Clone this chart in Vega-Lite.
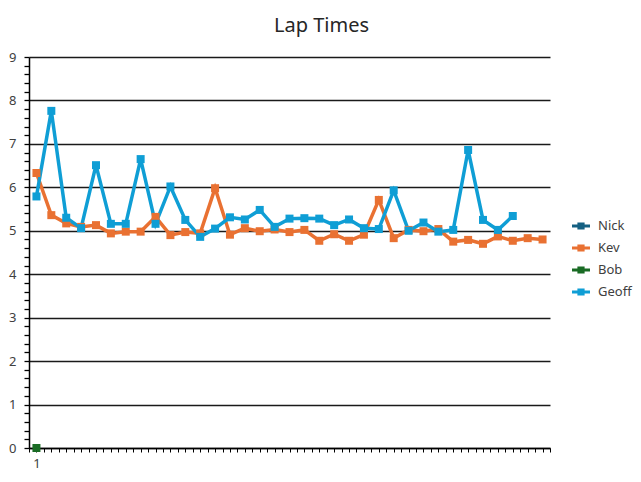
{
  "$schema": "https://vega.github.io/schema/vega-lite/v6.json",
  "autosize": "none",
  "width": 521,
  "height": 391,
  "padding": {"left": 29, "top": 57, "right": 91, "bottom": 34},
  "background": "white",
  "config": {
    "font": "Noto Sans",
    "view": {"stroke": null}
  },
  "title": {
    "text": "Lap Times",
    "fontSize": 20,
    "fontWeight": "normal",
    "color": "#262626",
    "anchor": "middle",
    "dx": 32,
    "offset": 15
  },
  "data": {
    "values": [
      {"lap": 1, "driver": "Kev", "time": 6.33},
      {"lap": 2, "driver": "Kev", "time": 5.36},
      {"lap": 3, "driver": "Kev", "time": 5.17},
      {"lap": 4, "driver": "Kev", "time": 5.09},
      {"lap": 5, "driver": "Kev", "time": 5.13},
      {"lap": 6, "driver": "Kev", "time": 4.94},
      {"lap": 7, "driver": "Kev", "time": 4.98},
      {"lap": 8, "driver": "Kev", "time": 4.98},
      {"lap": 9, "driver": "Kev", "time": 5.32},
      {"lap": 10, "driver": "Kev", "time": 4.90},
      {"lap": 11, "driver": "Kev", "time": 4.97},
      {"lap": 12, "driver": "Kev", "time": 4.94},
      {"lap": 13, "driver": "Kev", "time": 5.98},
      {"lap": 14, "driver": "Kev", "time": 4.91},
      {"lap": 15, "driver": "Kev", "time": 5.06},
      {"lap": 16, "driver": "Kev", "time": 4.99},
      {"lap": 17, "driver": "Kev", "time": 5.03},
      {"lap": 18, "driver": "Kev", "time": 4.97},
      {"lap": 19, "driver": "Kev", "time": 5.02},
      {"lap": 20, "driver": "Kev", "time": 4.77},
      {"lap": 21, "driver": "Kev", "time": 4.92},
      {"lap": 22, "driver": "Kev", "time": 4.77},
      {"lap": 23, "driver": "Kev", "time": 4.91},
      {"lap": 24, "driver": "Kev", "time": 5.71},
      {"lap": 25, "driver": "Kev", "time": 4.83},
      {"lap": 26, "driver": "Kev", "time": 5.02},
      {"lap": 27, "driver": "Kev", "time": 4.99},
      {"lap": 28, "driver": "Kev", "time": 5.04},
      {"lap": 29, "driver": "Kev", "time": 4.75},
      {"lap": 30, "driver": "Kev", "time": 4.79},
      {"lap": 31, "driver": "Kev", "time": 4.70},
      {"lap": 32, "driver": "Kev", "time": 4.87},
      {"lap": 33, "driver": "Kev", "time": 4.77},
      {"lap": 34, "driver": "Kev", "time": 4.83},
      {"lap": 35, "driver": "Kev", "time": 4.80},
      {"lap": 1, "driver": "Bob", "time": 0},
      {"lap": 1, "driver": "Geoff", "time": 5.79},
      {"lap": 2, "driver": "Geoff", "time": 7.76},
      {"lap": 3, "driver": "Geoff", "time": 5.30},
      {"lap": 4, "driver": "Geoff", "time": 5.06},
      {"lap": 5, "driver": "Geoff", "time": 6.51},
      {"lap": 6, "driver": "Geoff", "time": 5.16},
      {"lap": 7, "driver": "Geoff", "time": 5.16},
      {"lap": 8, "driver": "Geoff", "time": 6.65},
      {"lap": 9, "driver": "Geoff", "time": 5.16},
      {"lap": 10, "driver": "Geoff", "time": 6.02},
      {"lap": 11, "driver": "Geoff", "time": 5.25},
      {"lap": 12, "driver": "Geoff", "time": 4.86},
      {"lap": 13, "driver": "Geoff", "time": 5.05},
      {"lap": 14, "driver": "Geoff", "time": 5.31},
      {"lap": 15, "driver": "Geoff", "time": 5.26},
      {"lap": 16, "driver": "Geoff", "time": 5.48},
      {"lap": 17, "driver": "Geoff", "time": 5.09},
      {"lap": 18, "driver": "Geoff", "time": 5.28},
      {"lap": 19, "driver": "Geoff", "time": 5.29},
      {"lap": 20, "driver": "Geoff", "time": 5.28},
      {"lap": 21, "driver": "Geoff", "time": 5.13},
      {"lap": 22, "driver": "Geoff", "time": 5.26},
      {"lap": 23, "driver": "Geoff", "time": 5.06},
      {"lap": 24, "driver": "Geoff", "time": 5.04},
      {"lap": 25, "driver": "Geoff", "time": 5.93},
      {"lap": 26, "driver": "Geoff", "time": 5.00},
      {"lap": 27, "driver": "Geoff", "time": 5.19},
      {"lap": 28, "driver": "Geoff", "time": 4.98},
      {"lap": 29, "driver": "Geoff", "time": 5.02},
      {"lap": 30, "driver": "Geoff", "time": 6.86},
      {"lap": 31, "driver": "Geoff", "time": 5.25},
      {"lap": 32, "driver": "Geoff", "time": 5.02},
      {"lap": 33, "driver": "Geoff", "time": 5.34}
    ]
  },
  "encoding": {
    "x": {
      "field": "lap",
      "type": "quantitative",
      "scale": {"domain": [0.5, 35.5], "nice": false, "zero": false},
      "axis": {
        "title": null,
        "grid": false,
        "values": [0.5,1,1.5,2,2.5,3,3.5,4,4.5,5,5.5,6,6.5,7,7.5,8,8.5,9,9.5,10,10.5,11,11.5,12,12.5,13,13.5,14,14.5,15,15.5,16,16.5,17,17.5,18,18.5,19,19.5,20,20.5,21,21.5,22,22.5,23,23.5,24,24.5,25,25.5,26,26.5,27,27.5,28,28.5,29,29.5,30,30.5,31,31.5,32,32.5,33,33.5,34,34.5,35,35.5],
        "labelExpr": "datum.value == 1 ? '1' : ''",
        "domainColor": "#000000",
        "domainWidth": 1.5,
        "tickColor": "#000000",
        "tickSize": 4,
        "tickWidth": 1,
        "labelPadding": 5,
        "labelFontSize": 13,
        "labelColor": "#404040"
      }
    },
    "y": {
      "field": "time",
      "type": "quantitative",
      "scale": {"domain": [0, 9], "nice": false},
      "axis": {
        "title": null,
        "values": [0,0.2,0.4,0.6,0.8,1,1.2,1.4,1.6,1.8,2,2.2,2.4,2.6,2.8,3,3.2,3.4,3.6,3.8,4,4.2,4.4,4.6,4.8,5,5.2,5.4,5.6,5.8,6,6.2,6.4,6.6,6.8,7,7.2,7.4,7.6,7.8,8,8.2,8.4,8.6,8.8,9],
        "labelExpr": "datum.value % 1 === 0 ? format(datum.value, 'd') : ''",
        "grid": true,
        "gridColor": "#1a1a1a",
        "gridWidth": 1.3,
        "gridOpacity": {"condition": {"test": "datum.value % 1 === 0", "value": 1}, "value": 0},
        "domainColor": "#000000",
        "domainWidth": 1.5,
        "tickColor": "#000000",
        "tickSize": 5,
        "tickWidth": 1.3,
        "labelPadding": 8,
        "labelFontSize": 13,
        "labelColor": "#404040"
      }
    },
    "color": {
      "field": "driver",
      "type": "nominal",
      "scale": {
        "domain": ["Nick", "Kev", "Bob", "Geoff"],
        "range": ["#156082", "#E97132", "#196B24", "#0F9ED5"]
      },
      "legend": {
        "title": null,
        "orient": "none",
        "legendX": 543,
        "legendY": 160,
        "symbolType": "M-1,-0.17H1V0.17H-1ZM-0.4,-0.4H0.4V0.4H-0.4Z",
        "symbolSize": 324,
        "symbolStrokeWidth": 0,
        "labelFontSize": 13,
        "labelColor": "#404040",
        "labelOffset": 8,
        "rowPadding": 6,
        "encode": {"symbols": {"update": {"size": {"value": 324}, "strokeWidth": {"value": 0}}}}
      }
    }
  },
  "layer": [
    {"mark": {"type": "line", "strokeWidth": 3.5}},
    {"mark": {"type": "point", "shape": "square", "filled": true, "size": 64, "opacity": 1}}
  ]
}
